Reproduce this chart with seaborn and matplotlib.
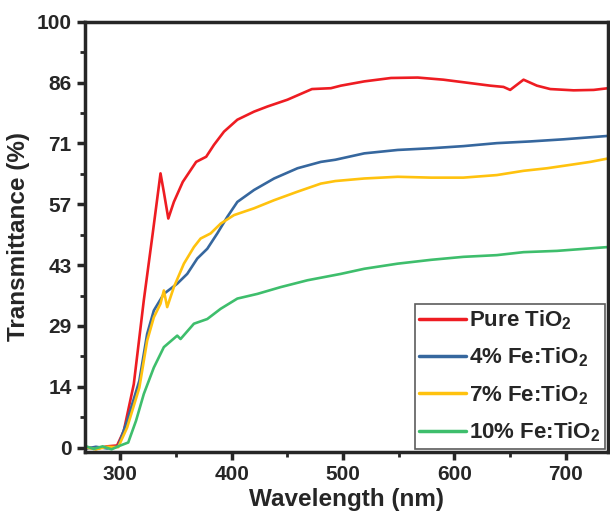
import pandas as pd
import numpy as np
import matplotlib
matplotlib.use("Agg")
import matplotlib.pyplot as plt
import seaborn as sns
from matplotlib.ticker import FixedLocator, FixedFormatter

# wavelength (nm) / transmittance (%)
wl_pure = [268, 278, 288, 297, 303, 312, 321, 329, 336, 339, 343, 348, 356, 368, 377, 384,
           393, 405, 420, 432, 450, 472, 489, 498, 519, 543, 567, 590, 614, 632, 644, 650,
           662, 674, 686, 707, 725, 738]
t_pure = [0.2, -0.3, 0.3, 0.5, 3.9, 14.9, 34.6, 50.3, 64.4, 60.0, 53.8, 57.7, 62.4, 67.1, 68.3, 71.1,
          74.2, 77.0, 78.9, 80.1, 81.7, 84.2, 84.4, 85.0, 86.0, 86.8, 86.9, 86.4, 85.6, 85.0, 84.7, 84.0,
          86.4, 85.0, 84.2, 83.9, 84.0, 84.4]

wl_4 = [268, 278, 288, 298, 306, 317, 324, 330, 339, 351, 360, 369, 378, 387, 396, 405,
        420, 438, 459, 480, 493, 519, 549, 579, 608, 638, 668, 698, 738]
t_4 = [-0.3, 0.2, -0.2, 0.3, 6.3, 15.7, 26.7, 32.2, 36.1, 38.5, 40.8, 44.4, 46.7, 50.3, 54.2, 57.7,
       60.5, 63.2, 65.6, 67.1, 67.6, 69.1, 69.9, 70.3, 70.8, 71.5, 71.9, 72.4, 73.2]

wl_7 = [268, 278, 288, 298, 306, 317, 324, 330, 336, 339, 342, 348, 357, 366, 372, 381,
        390, 402, 420, 438, 459, 480, 493, 519, 549, 579, 608, 638, 662, 683, 704, 722, 738]
t_7 = [0.1, -0.4, 0.2, 0.1, 4.7, 14.1, 25.1, 30.6, 33.8, 36.9, 33.0, 37.7, 43.2, 47.1, 49.1, 50.3,
       52.6, 54.6, 56.2, 58.1, 60.1, 62.0, 62.6, 63.2, 63.6, 63.4, 63.4, 64.0, 65.0, 65.6, 66.4, 67.1, 67.9]

wl_10 = [268, 276, 284, 292, 300, 307, 314, 321, 330, 339, 351, 354, 366, 378, 390, 405,
         423, 444, 468, 498, 519, 549, 579, 608, 638, 662, 692, 738]
t_10 = [0.4, -0.3, 0.3, -0.4, 0.5, 1.2, 6.3, 12.6, 18.8, 23.6, 26.3, 25.5, 29.1, 30.2, 32.6, 35.0,
        36.1, 37.7, 39.3, 40.8, 42.0, 43.2, 44.1, 44.8, 45.2, 45.9, 46.2, 47.1]

labels = ["Pure TiO$_\\mathbf{2}$", "4% Fe:TiO$_\\mathbf{2}$",
          "7% Fe:TiO$_\\mathbf{2}$", "10% Fe:TiO$_\\mathbf{2}$"]
colors = ["#EE1C22", "#36679E", "#FFC20E", "#3EBE6C"]

y_ticks = [100 / 7 * k for k in range(8)]
y_ticklabels = ["0", "14", "29", "43", "57", "71", "86", "100"]

frames = []
for lab, w, t in zip(labels, [wl_pure, wl_4, wl_7, wl_10], [t_pure, t_4, t_7, t_10]):
    frames.append(pd.DataFrame({"Wavelength": w, "T": t, "Sample": lab}))
df = pd.concat(frames, ignore_index=True)

sns.set_style("ticks")
plt.rcParams["font.family"] = ["Liberation Sans", "DejaVu Sans"]
plt.rcParams["font.weight"] = "bold"
plt.rcParams["mathtext.fontset"] = "custom"
plt.rcParams["mathtext.rm"] = "Liberation Sans:bold"
plt.rcParams["mathtext.bf"] = "Liberation Sans:bold"

fig = plt.figure(figsize=(6.1, 5.31), dpi=100)
ax = fig.add_axes([0.139, 0.149, 0.858, 0.81])

sns.lineplot(data=df, x="Wavelength", y="T", hue="Sample", palette=colors,
             linewidth=1.9, ax=ax, sort=False, estimator=None)

ax.set_xlim(268, 738)
ax.set_ylim(-1, 100)
ax.set_xticks([300, 400, 500, 600, 700])
ax.set_xticks([350, 450, 550, 650], minor=True)
ax.yaxis.set_major_locator(FixedLocator(y_ticks))
ax.yaxis.set_major_formatter(FixedFormatter(y_ticklabels))
ax.yaxis.set_minor_locator(FixedLocator([100 / 14 * (2 * k + 1) for k in range(7)]))

ax.tick_params(axis="both", which="major", direction="out", length=6, width=2.5,
               labelsize=15, top=False, right=False)
ax.tick_params(axis="both", which="minor", direction="out", length=3.5, width=2)
for lbl in ax.get_xticklabels() + ax.get_yticklabels():
    lbl.set_fontweight("bold")
for s in ax.spines.values():
    s.set_linewidth(2.5)
    s.set_visible(True)

ax.set_xlabel("Wavelength (nm)", fontsize=17.5, fontweight="bold", labelpad=3)
ax.set_ylabel("Transmittance (%)", fontsize=17.5, fontweight="bold", labelpad=5)

leg = ax.legend(loc="lower right", fontsize=16, frameon=True, fancybox=False,
                handlelength=2.1, borderaxespad=0.15, borderpad=0.2,
                labelspacing=0.62, handletextpad=0.15)
leg.get_frame().set_edgecolor("#333333")
leg.get_frame().set_linewidth(1.2)
for line in leg.get_lines():
    line.set_linewidth(2.5)

fig.savefig("out.png", dpi=100)
